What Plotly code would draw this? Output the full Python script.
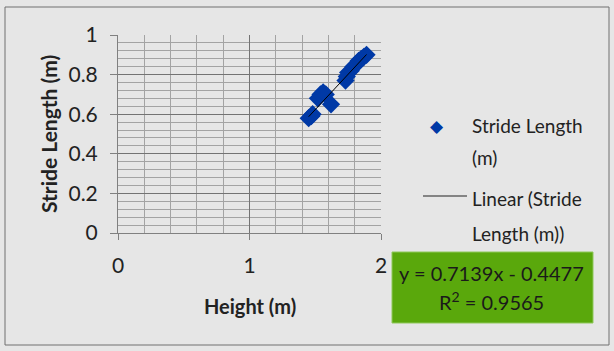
import plotly.graph_objects as go

heights = [1.45, 1.47, 1.48, 1.52, 1.54, 1.56, 1.58, 1.62, 1.73, 1.74, 1.75, 1.77, 1.79, 1.81, 1.83, 1.85, 1.87, 1.89]
strides = [0.58, 0.59, 0.60, 0.68, 0.70, 0.71, 0.70, 0.65, 0.77, 0.79, 0.81, 0.82, 0.84, 0.85, 0.87, 0.88, 0.89, 0.90]
slope, intercept, r2 = 0.7139, -0.4477, 0.9565
x_ticks = [0, 1, 2]
y_ticks = [0, 0.2, 0.4, 0.6, 0.8, 1]

FONT = "Lato"
W, H = 614, 351
L, R, T, B = 118, 381, 35, 233

def px(x):
    return (x - L) / (R - L)

def py(y):
    return (B - y) / (B - T)

fig = go.Figure()
fig.add_trace(go.Scatter(x=heights, y=strides, mode="markers",
                         marker=dict(symbol="diamond", size=14, color="#0039a6"),
                         name="Stride Length (m)"))
xs = [min(heights), max(heights)]
fig.add_trace(go.Scatter(x=xs, y=[slope * v + intercept for v in xs], mode="lines",
                         line=dict(color="black", width=1), name="Linear"))

grid_minor = "#a3a3a3"
grid_major = "#737373"
tick_font = dict(family=FONT, size=21, color="#222")
fig.update_xaxes(range=[0, 2], tickvals=x_ticks, ticktext=[str(v) for v in x_ticks],
                 showgrid=True, gridcolor=grid_major, gridwidth=1,
                 minor=dict(dtick=0.2, showgrid=True, gridcolor=grid_minor, gridwidth=1),
                 showline=True, linecolor="#808080", ticks="outside", ticklen=6, tickcolor="#808080",
                 tickfont=tick_font, ticklabelstandoff=8, zeroline=False)
fig.update_yaxes(range=[0, 1], tickvals=y_ticks, ticktext=["0", "0.2", "0.4", "0.6", "0.8", "1"],
                 showgrid=True, gridcolor=grid_major, gridwidth=1,
                 minor=dict(dtick=0.04, showgrid=True, gridcolor=grid_minor, gridwidth=1),
                 showline=True, linecolor="#808080", ticks="outside", ticklen=7, tickcolor="#808080",
                 tickfont=tick_font, ticklabelstandoff=8, zeroline=False)

def note(text, x, y, font, xanchor="center", **kw):
    return dict(text=text, x=px(x), y=py(y), xref="paper", yref="paper", showarrow=False,
                xanchor=xanchor, yanchor="middle", font=font, **kw)

ann = []
ann.append(note("<b>Height (m)</b>", 250, 306, dict(family=FONT, size=20, color="#222")))
ann.append(note("<b>Stride Length (m)</b>", 48, 134, dict(family=FONT, size=21, color="#222"), textangle=-90))
leg_font = dict(family=FONT, size=19, color="#222")
ann.append(note("◆", 437, 126, dict(family=FONT, size=17, color="#0039a6")))
for txt, yy in [("Stride Length", 125), ("(m)", 157), ("Linear (Stride", 198), ("Length (m))", 233)]:
    ann.append(note(txt, 470, yy, leg_font, xanchor="left"))
ann.append(note(f"y = {slope}x - {abs(intercept)}", 491, 273, dict(family=FONT, size=20, color="#1a1a1a")))
ann.append(note(f"R<sup>2</sup> = {r2}", 491, 301, dict(family=FONT, size=20, color="#1a1a1a")))

shapes = []
shapes.append(dict(type="rect", xref="paper", yref="paper", x0=px(5), x1=px(609), y0=py(7), y1=py(345),
                   line=dict(color="#707070", width=1), layer="below"))
shapes.append(dict(type="line", xref="paper", yref="paper", x0=px(423), x1=px(467), y0=py(196), y1=py(196),
                   line=dict(color="#222", width=1)))
shapes.append(dict(type="rect", xref="paper", yref="paper", x0=px(392), x1=px(593), y0=py(252), y1=py(323),
                   fillcolor="#5aa80c", line=dict(color="#8fc85a", width=1), layer="below"))

fig.update_layout(width=W, height=H, margin=dict(l=L, r=W - R, t=T, b=H - B),
                  paper_bgcolor="#e6e6e6", plot_bgcolor="#e6e6e6", showlegend=False,
                  annotations=ann, shapes=shapes)
fig.write_html("out.html", config={"displayModeBar": False},
               post_script="document.body.style.margin='0';document.body.style.background='#e6e6e6';")
